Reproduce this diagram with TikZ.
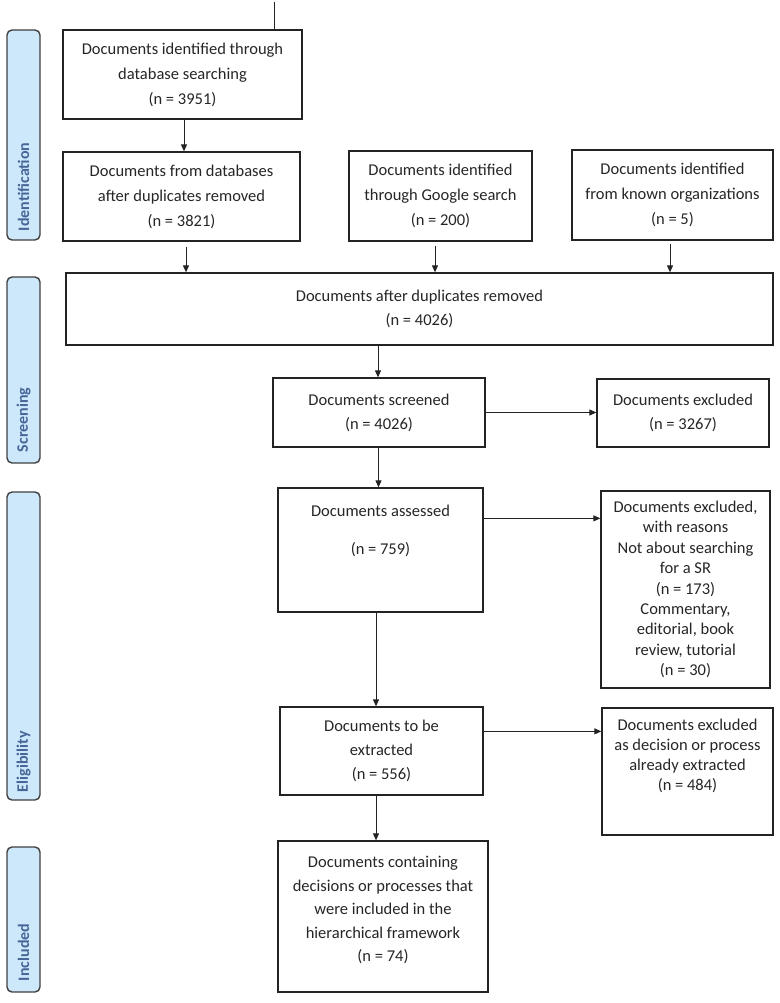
\documentclass[tikz,border=0pt]{standalone}
\usepackage{fontspec}
\setmainfont{Carlito}
\usetikzlibrary{arrows.meta,calc}
\definecolor{sidefill}{RGB}{205,232,251}
\definecolor{sidetext}{RGB}{70,102,152}
\definecolor{boxline}{RGB}{35,35,35}
\begin{document}
\begin{tikzpicture}[x=1pt,y=-1pt,
  box/.style={draw=boxline,line width=1.3pt,fill=white,align=center,inner sep=0pt,
    text=black!85,font=\fontsize{16.5}{25}\selectfont},
  side/.style={draw=black!75,line width=1.4pt,fill=sidefill,rounded corners=5pt,
    rotate=90,minimum height=33pt,inner sep=0pt,text=sidetext,
    font=\bfseries\fontsize{16}{18}\selectfont,align=left},
  arr/.style={draw=boxline,line width=1pt,-{Triangle[length=7pt,width=6pt]}}]
\useasboundingbox (0,0) rectangle (779,1003);

% side phase labels
\node[side,minimum width=210pt,text width=192pt] (sid) at (23.5,135) {Identification};
\node[side,minimum width=186pt,text width=164pt] (ssc) at (23.5,370) {Screening};
\node[side,minimum width=308pt,text width=292pt] (sel) at (23.5,646) {Eligibility};
\node[side,minimum width=145pt,text width=123pt] (sin) at (23.5,919.5) {Included};

% boxes
\node[box,minimum width=239pt,minimum height=89pt] (a) at (182.5,74.5)
  {Documents identified through\\database searching\\(n = 3951)};
\node[box,minimum width=237pt,minimum height=89pt] (b) at (181.5,196.5)
  {Documents from databases\\after duplicates removed\\(n = 3821)};
\node[box,minimum width=183pt,minimum height=90pt] (c) at (440.5,196)
  {Documents identified\\through Google search\\(n = 200)};
\node[box,minimum width=201pt,minimum height=90pt] (d) at (672.5,195)
  {Documents identified\\from known organizations\\(n = 5)};
\node[box,minimum width=707pt,minimum height=72pt,font=\fontsize{16.5}{24}\selectfont] (e) at (419.5,309)
  {Documents after duplicates removed\\(n = 4026)};
\node[box,minimum width=212pt,minimum height=69pt,font=\fontsize{16.5}{24}\selectfont] (f) at (379,412.5)
  {Documents screened\\(n = 4026)};
\node[box,minimum width=172pt,minimum height=68pt,font=\fontsize{16.5}{24}\selectfont] (g) at (683,413)
  {Documents excluded\\(n = 3267)};
\node[box,minimum width=205pt,minimum height=124pt,font=\fontsize{16.5}{19}\selectfont,text depth=40pt] (h) at (380.5,550)
  {Documents assessed\\[19pt](n = 759)};
\node[box,minimum width=169pt,minimum height=197pt,font=\fontsize{16.5}{20.4}\selectfont] (i) at (685.5,589.5)
  {Documents excluded,\\with reasons\\Not about searching\\for a SR\\(n = 173)\\Commentary,\\editorial, book\\review, tutorial\\(n = 30)};
\node[box,minimum width=203pt,minimum height=88pt,font=\fontsize{16.5}{24}\selectfont] (j) at (381.5,751)
  {Documents to be\\extracted\\(n = 556)};
\node[box,minimum width=171pt,minimum height=127pt,font=\fontsize{16.5}{20}\selectfont,text depth=33pt] (k) at (687.5,771.5)
  {Documents excluded\\as decision or process\\already extracted\\(n = 484)};
\node[box,minimum width=210pt,minimum height=151pt,font=\fontsize{16.5}{23.5}\selectfont,text depth=15pt] (l) at (383,916.5)
  {Documents containing\\decisions or processes that\\were included in the\\hierarchical framework\\(n = 74)};

% stray line at top
\coordinate (top) at (274,2);
\draw[draw=boxline,line width=1pt] (top) -- (top |- a.north);

% connectors
\draw[arr] ([xshift=1.5pt]a.south) -- ([xshift=1.5pt]a.south |- b.north);
\draw[arr,shorten <=5pt] ([xshift=4.5pt]b.south) -- ([xshift=4.5pt]b.south |- e.north);
\draw[arr,shorten <=4pt] ([xshift=-5.5pt]c.south) -- ([xshift=-5.5pt]c.south |- e.north);
\draw[arr,shorten <=3pt] ([xshift=-2.5pt]d.south) -- ([xshift=-2.5pt]d.south |- e.north);
\draw[arr] ([xshift=-1pt]f.north |- e.south) -- ([xshift=-1pt]f.north);
\draw[arr] (f.east) -- (f.east -| g.west);
\draw[arr] ([xshift=-0.5pt]f.south) -- ([xshift=-0.5pt]f.south |- h.north);
\draw[arr] ([yshift=-31pt]h.north east) -- ([yshift=-31pt]h.north east -| i.west);
\draw[arr] ([xshift=-4.5pt]h.south) -- ([xshift=-4.5pt]h.south |- j.north);
\draw[arr] ([yshift=-25pt]j.north east) -- ([yshift=-25pt]j.north east -| k.west);
\draw[arr] ([xshift=-5.5pt]j.south) -- ([xshift=-5.5pt]j.south |- l.north);
\end{tikzpicture}
\end{document}
